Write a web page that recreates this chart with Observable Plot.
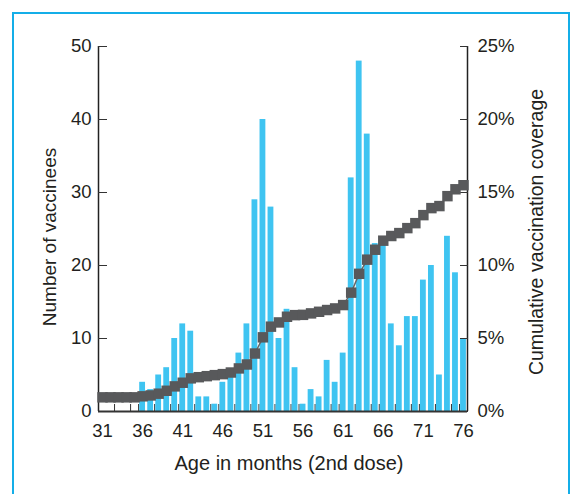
<!DOCTYPE html>
<html><head><meta charset="utf-8">
<script src="https://cdn.jsdelivr.net/npm/d3@7"></script>
<script src="https://cdn.jsdelivr.net/npm/@observablehq/plot@0.6"></script>
<style>
html,body{margin:0;padding:0;background:#fff;overflow:hidden;width:571px;height:494px;}
#frame{position:absolute;left:12px;top:12px;width:554px;height:520px;border:2px solid #14aee8;box-sizing:content-box;}
#chart{position:absolute;left:0;top:0;}
</style></head><body>
<div id="frame"></div><div id="chart"></div>
<script>
const months = [31,32,33,34,35,36,37,38,39,40,41,42,43,44,45,46,47,48,49,50,51,52,53,54,55,56,57,58,59,60,61,62,63,64,65,66,67,68,69,70,71,72,73,74,75,76];
const counts = [0,0,0,0,0,4,3,5,6,10,12,11,2,2,1,4,5,8,12,29,40,28,10,14,6,1,3,2,7,4,8,32,48,38,23,23,12,9,13,13,18,20,5,24,19,10];
const coverage = [0.97,0.97,0.97,0.97,0.97,1.04,1.10,1.22,1.42,1.72,1.97,2.27,2.35,2.42,2.49,2.56,2.67,2.95,3.22,3.97,5.08,5.81,6.10,6.49,6.60,6.62,6.72,6.83,6.95,7.06,7.29,8.14,9.43,10.4,11.08,11.7,12.02,12.22,12.56,12.9,13.45,13.93,14.07,14.75,15.22,15.5];
const countTicks = [0,10,20,30,40,50];
const coverageTickLabels = ["0%","5%","10%","15%","20%","25%"];
const monthTickLabels = [31,36,41,46,51,56,61,66,71,76];
const monthTickMarks = [31,33,35,36,38,40,41,43,45,46,48,50,51,53,55,56,58,60,61,63,65,66,68,70,71,73,75,76];

const data = months.map((m, i) => ({month: m, count: counts[i], cov: coverage[i]}));
const ink = "#231f20";
const fontFam = '"Liberation Sans", Arial, Helvetica, sans-serif';

const plot = Plot.plot({
  width: 571, height: 494,
  marginLeft: 98, marginRight: 104, marginTop: 46, marginBottom: 83,
  style: {fontFamily: fontFam, fontSize: "18.5px", color: ink, background: "transparent", overflow: "visible"},
  x: {domain: [31, 77], axis: null},
  y: {domain: [0, 50], axis: null},
  marks: [
    Plot.axisX({ticks: monthTickMarks, tickSize: -7, tickFormat: () => "", stroke: "#333", label: null}),
    Plot.rectY(data, {x1: "month", x2: d => d.month + 1, y: "count", fill: "#3fc4f1", insetLeft: 1.1, insetRight: 1.1}),
    Plot.axisX({ticks: monthTickLabels.map(m => m + 0.5), tickSize: 0, tickPadding: 12, label: null,
      tickFormat: d => String(monthTickLabels.find(m => m + 0.5 === d)), fill: ink}),
    Plot.ruleX([31], {stroke: "#222", strokeWidth: 1.5}),
    Plot.ruleX([77], {stroke: "#222", strokeWidth: 1.5}),
    Plot.ruleY([0], {stroke: "#333", strokeWidth: 2}),
    Plot.axisY({anchor: "left", ticks: countTicks, tickSize: -9, tickPadding: 16, stroke: "#333", fill: ink, label: null}),
    Plot.axisY({anchor: "right", ticks: countTicks, tickSize: -8, tickPadding: 18, stroke: "#333", fill: ink, label: null,
      tickFormat: d => coverageTickLabels[countTicks.indexOf(d)]}),
    Plot.line(data, {x: d => d.month + 0.5, y: d => d.cov * 2, stroke: "#666", strokeWidth: 1.5}),
    Plot.dot(data, {x: d => d.month + 0.5, y: d => d.cov * 2, symbol: "square", r: 5.9, fill: "#58595b", stroke: "none"}),
    Plot.text(["Number of vaccinees"], {text: d => d, frameAnchor: "left", textAnchor: "middle", lineAnchor: "middle", rotate: -90, dx: -49, dy: 8, fontSize: 19, fill: ink}),
    Plot.text(["Cumulative vaccination coverage"], {text: d => d, frameAnchor: "right", textAnchor: "middle", lineAnchor: "middle", rotate: -90, dx: 69, dy: 3, fontSize: 19.5, fill: ink}),
    Plot.text(["Age in months (2nd dose)"], {text: d => d, frameAnchor: "bottom", textAnchor: "middle", lineAnchor: "middle", dx: 6, dy: 52, fontSize: 20, fill: ink})
  ]
});
document.getElementById("chart").appendChild(plot);
</script>
</body></html>
